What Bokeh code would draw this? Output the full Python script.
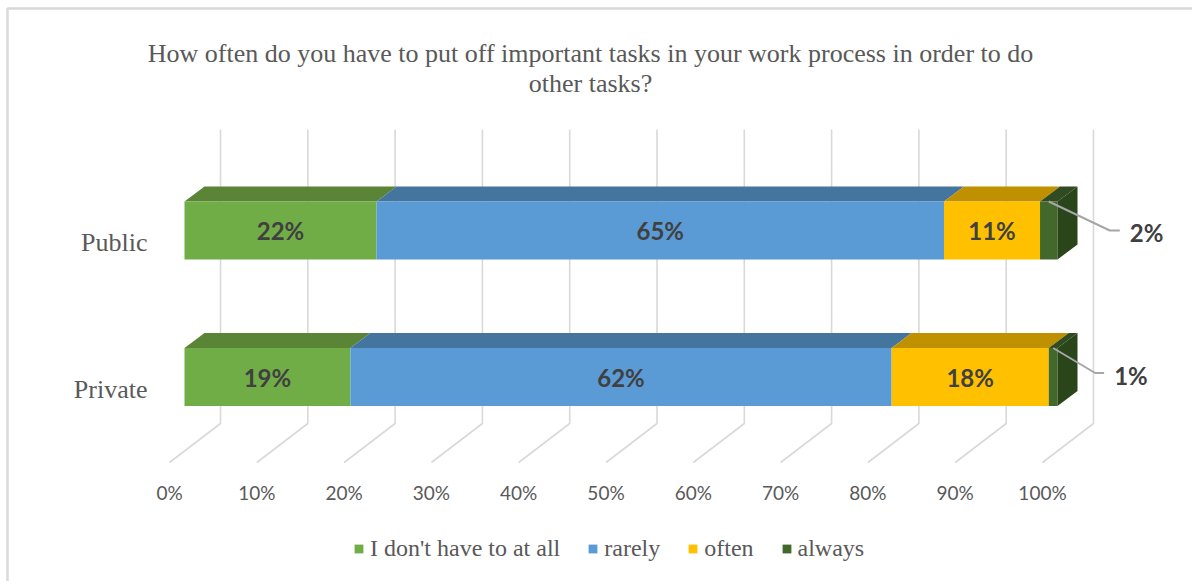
from bokeh.plotting import figure
from bokeh.models import Range1d, ColumnDataSource, Legend, LegendItem
from bokeh.core.properties import value
from bokeh.embed import file_html
from bokeh.resources import INLINE

# ---- data -------------------------------------------------------------
categories = ["Public", "Private"]
series_names = ["I don't have to at all", "rarely", "often", "always"]
public_values = [22, 65, 11, 2]
private_values = [19, 62, 18, 1]
tick_values = [0, 10, 20, 30, 40, 50, 60, 70, 80, 90, 100]
tick_labels = ["0%", "10%", "20%", "30%", "40%", "50%", "60%", "70%", "80%", "90%", "100%"]
title_lines = [
    "How often do you have to put off important tasks in your work process in order to do",
    "other tasks?",
]

values_by_category = {"Public": public_values, "Private": private_values}

# ---- styling ----------------------------------------------------------
front_colors = ["#70AD47", "#5B9BD5", "#FFC000", "#43682B"]
top_colors = ["#5A8436", "#44759F", "#BF9000", "#2F4B1F"]
side_color = "#2A4519"
grid_color = "#D9D9D9"
text_gray = "#595959"
label_dark = "#404040"
serif = "Liberation Serif"
sans = "Lato"

W, H = 1192, 581

# pixel layout of the drawing area
X0_PX = 184.0          # 0 % on the bars' front face
PX_PER_PCT = 8.73
ROW0_PX = 376.5        # centre of the lowest row
ROW_STEP_PX = 146.5


def xd(px):
    return (px - X0_PX) / PX_PER_PCT


def yd(py):
    return (ROW0_PX - py) / ROW_STEP_PX


def dxd(px):
    return px / PX_PER_PCT


def dyd(px):
    return px / ROW_STEP_PX


BAR_H = dyd(58)
DEPTH_DX, DEPTH_DY = dxd(20), dyd(15)       # bar depth (oblique projection)
WALL_DX = dxd(36)                           # back wall behind bar fronts
FLOOR_DX = dxd(-51)                         # floor depth
WALL_TOP, WALL_BASE, FLOOR_FRONT = yd(129), yd(423), yd(462)
SMALL = 5                                   # segments below this get a callout

p = figure(
    width=W, height=H,
    x_range=Range1d(xd(0), xd(W)), y_range=Range1d(yd(H), yd(0)),
    x_axis_location=None, y_axis_location=None,
    toolbar_location=None, output_backend="svg",
    min_border=0, outline_line_color=None,
)
p.grid.visible = False

# chart border
p.line([xd(W + 5), xd(7), xd(7)], [yd(8), yd(8), yd(H + 5)],
       line_color="#D9D9D9", line_width=2.5)

# back-wall gridlines bending onto the floor
grid_xs, grid_ys = [], []
for t in tick_values:
    xb = t + WALL_DX
    grid_xs.append([xb, xb, xb + FLOOR_DX])
    grid_ys.append([WALL_TOP, WALL_BASE, FLOOR_FRONT])
p.multi_line(grid_xs, grid_ys, line_color=grid_color, line_width=1.6)

# tick labels along the floor's front edge
p.text(x=[t + WALL_DX + FLOOR_DX for t in tick_values], y=[yd(492)] * len(tick_values),
       text=tick_labels, text_align="center", text_baseline="middle",
       text_font=value(sans), text_font_size="19px", text_color=text_gray)

# rows: first category on top
row_of = {c: len(categories) - 1 - i for i, c in enumerate(categories)}

front_renderers = []
label_x, label_y, label_t = [], [], []
callouts = []
for j, name in enumerate(series_names):
    left, right, bottom, top = [], [], [], []
    txs, tys = [], []
    for cat in categories:
        vals = values_by_category[cat]
        l = sum(vals[:j])
        r = l + vals[j]
        yc = row_of[cat]
        b, t = yc - BAR_H / 2, yc + BAR_H / 2
        left.append(l); right.append(r); bottom.append(b); top.append(t)
        txs.append([l, r, r + DEPTH_DX, l + DEPTH_DX])
        tys.append([t, t, t + DEPTH_DY, t + DEPTH_DY])
        if vals[j] >= SMALL:
            label_x.append((l + r) / 2); label_y.append(yc); label_t.append(f"{vals[j]}%")
        else:
            callouts.append(((l + r) / 2, t, vals[j], cat))
    p.patches(txs, tys, fill_color=top_colors[j], line_color=None)
    src = ColumnDataSource(dict(left=left, right=right, bottom=bottom, top=top))
    rr = p.quad(left="left", right="right", bottom="bottom", top="top", source=src,
                fill_color=front_colors[j], line_color=None)
    front_renderers.append(rr)

# right-hand end face of each bar
sxs, sys_ = [], []
for cat in categories:
    total = sum(values_by_category[cat])
    yc = row_of[cat]
    b, t = yc - BAR_H / 2, yc + BAR_H / 2
    sxs.append([total, total + DEPTH_DX, total + DEPTH_DX, total])
    sys_.append([b, b + DEPTH_DY, t + DEPTH_DY, t])
p.patches(sxs, sys_, fill_color=side_color, line_color=None)

# data labels inside the segments
p.text(x=label_x, y=label_y, text=label_t, text_align="center", text_baseline="middle",
       text_font=value(sans), text_font_style="bold", text_font_size="24px",
       text_color=label_dark)

# callouts for the thin segments
callout_offsets = {"Public": (61, 29, 10), "Private": (42, 25, 9)}
for cx, cy, v, cat in callouts:
    ox, oy, run = callout_offsets[cat]
    ex, ey = cx + dxd(ox), cy - dyd(oy)
    p.line([cx, ex, ex + dxd(run)], [cy, ey, ey], line_color="#A6A6A6", line_width=2)
    p.text(x=[ex + dxd(run + 10)], y=[ey - dyd(2)], text=[f"{v}%"], text_align="left",
           text_baseline="middle", text_font=value(sans), text_font_style="bold",
           text_font_size="24px", text_color=label_dark)

# category labels
p.text(x=[xd(147)] * len(categories), y=[row_of[c] - dyd(12) for c in categories],
       text=categories, text_align="right", text_baseline="middle",
       text_font=value(serif), text_font_size="26px", text_color=text_gray)

# title
p.text(x=[xd(590)] * 2, y=[yd(53), yd(83)], text=title_lines, text_align="center",
       text_baseline="alphabetic", text_font=value(serif), text_font_size="26px",
       text_color=text_gray)

legend = Legend(
    items=[LegendItem(label=n, renderers=[front_renderers[j]]) for j, n in enumerate(series_names)],
    orientation="horizontal", location=(353, 19),
    glyph_width=11, glyph_height=11, label_standoff=6, spacing=27,
    padding=0, margin=0, border_line_color=None, background_fill_alpha=0,
    label_text_font=serif, label_text_font_size="24px", label_text_color=text_gray,
)
p.add_layout(legend)

open("out.html", "w").write(file_html(p, INLINE))
